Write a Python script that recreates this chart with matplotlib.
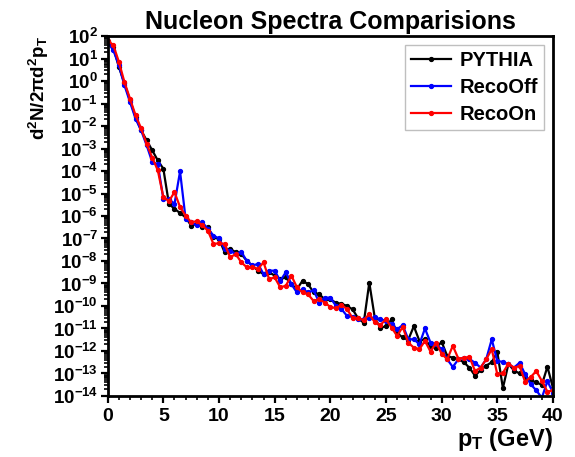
import numpy as np
import matplotlib
matplotlib.use("Agg")
import matplotlib.pyplot as plt
from matplotlib.ticker import FixedLocator, LogLocator, MultipleLocator, FuncFormatter, NullFormatter

plt.rcParams['font.family'] = ['Liberation Sans', 'DejaVu Sans']
plt.rcParams['font.weight'] = 'bold'
plt.rcParams['mathtext.fontset'] = 'custom'
plt.rcParams['mathtext.rm'] = 'Liberation Sans:bold'
plt.rcParams['mathtext.bf'] = 'Liberation Sans:bold'
plt.rcParams['mathtext.it'] = 'Liberation Sans:bold'

# pT bins, 0.5 GeV steps
pt = np.arange(0, 40.01, 0.5)

# log10 of d2N/2pi d2pT for each sample
pythia_log = [1.8, 1.5, 0.63, -0.1, -0.85, -1.6, -2.19, -2.64, -3.08, -3.53,
              -3.9, -5.46, -5.68, -5.87, -6.06, -6.43, -6.35, -6.5, -6.5, -6.95,
              -7.02, -7.61, -7.46, -7.61, -7.69, -7.99, -8.21, -8.43, -8.58, -8.5,
              -8.65, -8.8, -8.73, -9.03, -9.25, -8.88, -9.03, -9.4, -9.48, -9.7,
              -9.7, -9.86, -9.9, -10.0, -10.15, -10.55, -10.75, -8.96, -10.55, -10.97,
              -10.9, -10.6, -11.2, -11.4, -11.5, -10.9, -11.55, -11.48, -11.8, -11.85,
              -11.6, -12.22, -12.3, -12.37, -12.5, -12.75, -13.1, -12.85, -12.65, -12.5,
              -12.05, -13.65, -12.57, -12.87, -13.0, -13.15, -13.3, -13.4, -13.5, -12.7,
              -13.64]
recooff_log = [1.7, 1.38, 0.7, -0.18, -0.93, -1.67, -2.19, -2.86, -3.6, -3.7,
               -5.24, -5.24, -5.46, -4.02, -6.13, -6.28, -6.42, -6.28, -6.57, -6.87,
               -7.0, -7.47, -7.54, -7.69, -7.6, -8.0, -8.2, -8.13, -8.58, -8.43,
               -8.43, -8.88, -8.5, -9.03, -9.4, -9.25, -9.4, -9.3, -9.85, -9.63,
               -9.63, -9.99, -10.14, -10.44, -10.48, -10.59, -10.59, -10.54, -10.51, -10.59,
               -10.66, -10.81, -11.03, -10.85, -11.48, -11.48, -11.7, -11.0, -11.63, -11.7,
               -11.92, -12.37, -12.71, -12.37, -12.3, -12.37, -12.52, -12.74, -12.37, -11.48,
               -12.45, -12.48, -12.6, -12.74, -12.52, -13.04, -13.48, -13.75, -14.08, -13.34,
               -13.85]
recoon_log = [1.8, 1.6, 0.86, -0.04, -0.78, -1.52, -2.1, -2.8, -3.4, -3.97,
              -5.16, -5.34, -4.94, -5.6, -5.98, -6.28, -6.23, -6.42, -6.65, -7.24,
              -7.21, -7.24, -7.84, -7.69, -8.06, -8.28, -8.28, -8.35, -8.06, -8.8,
              -8.73, -9.17, -9.1, -8.65, -9.17, -9.4, -9.48, -9.78, -9.7, -9.85,
              -10.04, -10.1, -9.95, -10.14, -10.54, -10.54, -10.63, -10.36, -10.73, -10.84,
              -10.59, -10.96, -11.33, -10.93, -11.63, -11.85, -11.92, -11.55, -12.03, -11.63,
              -12.12, -12.37, -11.77, -12.34, -12.3, -12.27, -12.89, -12.74, -12.37, -11.92,
              -13.04, -12.97, -12.56, -12.74, -12.67, -13.37, -13.16, -12.89, -13.33, -13.81,
              -13.75]

labels = ['PYTHIA', 'RecoOff', 'RecoOn']
colors = ['black', 'blue', 'red']

fig = plt.figure(figsize=(5.75, 4.57), dpi=100)
ax = fig.add_axes([0.1873, 0.1335, 0.7744, 0.7877])

for ylog, lab, col in zip([pythia_log, recooff_log, recoon_log], labels, colors):
    ax.plot(pt, 10.0 ** np.array(ylog), color=col, lw=1.6, marker='o', ms=2.8, label=lab)

ax.set_yscale('log')
ax.set_xlim(0, 40)
ax.set_ylim(1e-14, 1e2)

ax.xaxis.set_major_locator(MultipleLocator(5))
ax.xaxis.set_minor_locator(MultipleLocator(1))
ax.yaxis.set_major_locator(FixedLocator(10.0 ** np.arange(-14, 3)))
ax.yaxis.set_minor_locator(LogLocator(base=10, subs=np.arange(2, 10), numticks=100))
ax.yaxis.set_minor_formatter(NullFormatter())
ax.yaxis.set_major_formatter(FuncFormatter(lambda v, p: r'$\mathbf{10^{%d}}$' % round(np.log10(v))))

ax.tick_params(which='major', direction='out', length=5, width=1.6, labelsize=14)
ax.tick_params(which='minor', direction='out', length=3, width=1.2)
ax.tick_params(axis='y', which='major', labelsize=13.5, pad=2)
for lbl in ax.get_xticklabels():
    lbl.set_fontweight('bold')
for s in ax.spines.values():
    s.set_linewidth(2)

ax.set_title('Nucleon Spectra Comparisions', fontsize=18, fontweight='bold', pad=5)
ax.set_xlabel(r'$\mathbf{p_T}$ (GeV)', fontsize=17, fontweight='bold', loc='right', labelpad=1)
ax.set_ylabel(r'$\mathbf{d^2N/2\pi d^2p_T}$', fontsize=13.5, loc='top', labelpad=1)

leg = ax.legend(loc='upper right', fontsize=14.5, frameon=True, fancybox=False,
                handlelength=2.0, borderaxespad=0.45, handletextpad=0.4, labelspacing=0.4,
                borderpad=0.3)
leg.get_frame().set_edgecolor('#b0b0b0')
leg.get_frame().set_linewidth(1.0)
for t in leg.get_texts():
    t.set_fontweight('bold')

fig.savefig('out.png', dpi=100)
